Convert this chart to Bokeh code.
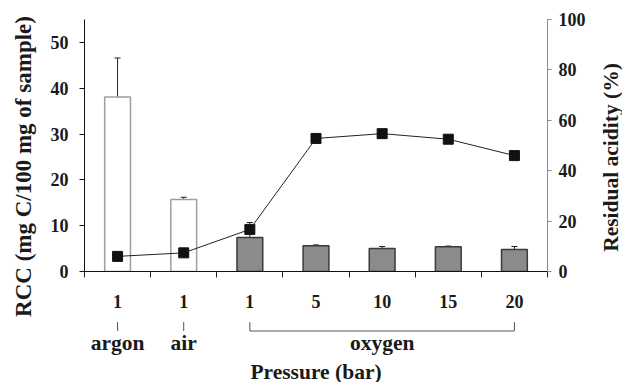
from math import pi
from bokeh.plotting import figure
from bokeh.layouts import row, column
from bokeh.models import (Range1d, LinearAxis, FixedTicker, ColumnDataSource,
                          Whisker, TeeHead)
from bokeh.core.properties import value
from bokeh.embed import file_html
from bokeh.resources import INLINE

# ---- data ----
pressure_labels = ["1", "1", "1", "5", "10", "15", "20"]
gas_of_bar = ["argon", "air", "oxygen", "oxygen", "oxygen", "oxygen", "oxygen"]
gas_groups = ["argon", "air", "oxygen"]
rcc = [38.1, 15.7, 7.4, 5.6, 5.0, 5.4, 4.8]
rcc_low = [29.5, 15.2, 6.0, 5.4, 4.45, 5.25, 3.9]
rcc_high = [46.6, 16.2, 10.7, 5.8, 5.45, 5.55, 5.45]
acidity = [6.0, 7.4, 16.7, 52.8, 54.7, 52.5, 46.0]

FONT = "Liberation Serif"
TXT = "#1a1a1a"
TICK_FS = "18px"

xpos = [i + 0.5 for i in range(len(rcc))]
fills = ["white" if g != "oxygen" else "#8b8b8d" for g in gas_of_bar]
outlines = ["#9e9e9e" if g != "oxygen" else "#3a3a3a" for g in gas_of_bar]

src = ColumnDataSource(dict(x=xpos, rcc=rcc, low=rcc_low, high=rcc_high,
                            acid=acidity, fill=fills, outline=outlines))

xr = Range1d(0, len(rcc))

def strip(w, h, xr_=None, yr_=None):
    f = figure(width=w, height=h, x_range=xr_ if xr_ is not None else Range1d(0, w),
               y_range=yr_ if yr_ is not None else Range1d(0, h),
               x_axis_type=None, y_axis_type=None, output_backend="svg",
               toolbar_location=None, min_border=0)
    f.outline_line_color = None
    f.grid.visible = False
    return f

# ---- main plot ----
p = figure(width=550, height=314, x_range=xr, y_range=Range1d(0, 55),
           output_backend="svg", toolbar_location=None,
           min_border_left=44, min_border_right=43, min_border_top=19, min_border_bottom=43)
p.extra_y_ranges = {"right": Range1d(0, 100)}
p.outline_line_color = None
p.xgrid.visible = False
p.ygrid.visible = False

p.vbar(x="x", top="rcc", bottom=0, width=0.39, source=src,
       fill_color="fill", line_color="outline", line_width=1.5)

wh = Whisker(source=src, base="x", lower="low", upper="high", dimension="height",
             line_color="#222222", line_width=1,
             upper_head=TeeHead(size=6, line_color="#222222", line_width=1),
             lower_head=TeeHead(size=6, line_color="#222222", line_width=1))
p.add_layout(wh)

p.line("x", "acid", source=src, y_range_name="right", line_color="#222222", line_width=1)
p.scatter("x", "acid", source=src, y_range_name="right", marker="square", size=10,
          fill_color="#111111", line_color="#111111")

xa = p.xaxis[0]
xa.ticker = FixedTicker(ticks=xpos, minor_ticks=list(range(len(rcc) + 1)))
xa.major_label_overrides = {xv: lab for xv, lab in zip(xpos, pressure_labels)}
xa.major_tick_line_color = None
xa.major_tick_out = 0
xa.major_tick_in = 0
xa.minor_tick_out = 6
xa.minor_tick_in = 0
xa.minor_tick_line_color = "#222222"
xa.axis_line_color = "#111111"
xa.major_label_standoff = 17
xa.major_label_text_font = FONT
xa.major_label_text_font_style = "bold"
xa.major_label_text_font_size = TICK_FS
xa.major_label_text_color = TXT

ya = p.yaxis[0]
ya.ticker = FixedTicker(ticks=[0, 10, 20, 30, 40, 50], minor_ticks=[])
ya.major_tick_out = 5
ya.major_tick_in = 0
ya.axis_line_color = "#111111"
ya.major_tick_line_color = "#111111"
ya.major_label_standoff = 11
ya.major_label_text_font = FONT
ya.major_label_text_font_style = "bold"
ya.major_label_text_font_size = TICK_FS
ya.major_label_text_color = TXT

ra = LinearAxis(y_range_name="right", ticker=FixedTicker(ticks=[0, 20, 40, 60, 80, 100], minor_ticks=[]))
ra.axis_line_color = "#8a8a8a"
ra.major_tick_line_color = "#8a8a8a"
ra.major_tick_out = 4
ra.major_tick_in = 0
ra.major_label_standoff = 7
ra.major_label_text_font = FONT
ra.major_label_text_font_style = "bold"
ra.major_label_text_font_size = TICK_FS
ra.major_label_text_color = TXT
p.add_layout(ra, "right")

def text_kw(size):
    return dict(text_font=value(FONT), text_font_style="bold", text_font_size=size,
                text_color=TXT, text_align="center", text_baseline="middle")

# ---- bottom strip: gas groups, brackets, x title (y = 382 - page pixel) ----
b = strip(550, 68, xr_=xr, yr_=Range1d(0, 68))
b.min_border_left = 44
b.min_border_right = 43
group_x = [0.5, 1.5, 4.5]
b.text(x=group_x, y=[40, 40, 40], text=gas_groups, **text_kw("21.5px"))
b.text(x=[3.5], y=[11], text=["Pressure (bar)"], **text_kw("21.5px"))
br_top, br_bot = 60.5, 51.5
b.segment(x0=[0.5, 1.5, 2.5, 6.5, 2.5], y0=[br_top, br_top, br_top, br_top, br_bot],
          x1=[0.5, 1.5, 2.5, 6.5, 6.5], y1=[br_bot, br_bot, br_bot, br_bot, br_bot],
          line_color="#555555", line_width=1)

# ---- left strip: left axis title ----
l = strip(40, 382)
l.text(x=[23], y=[382 - 166], text=["RCC (mg C/100 mg of sample)"], angle=pi / 2, **text_kw("23px"))

# ---- right strip: right axis title ----
r = strip(32, 382)
r.text(x=[20], y=[382 - 157], text=["Residual acidity (%)"], angle=pi / 2, **text_kw("21.5px"))

layout = row(l, column(p, b), r)
open("out.html", "w").write(file_html(layout, INLINE))
